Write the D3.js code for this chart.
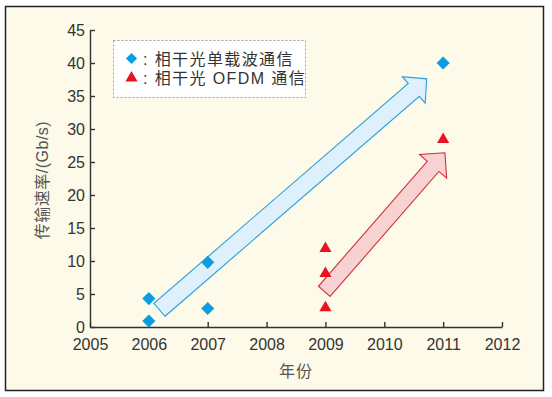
<!DOCTYPE html>
<html>
<head>
<meta charset="utf-8">
<script src="https://cdn.jsdelivr.net/npm/d3@7"></script>
<style>
	html, body { margin: 0; padding: 0; background: #fff; }
	svg { display: block; font-family: "Liberation Sans", Arial, "Noto Sans CJK SC", sans-serif; }
</style>
</head>
<body>
<svg width="552" height="397"></svg>
<script>
'use strict';

// single carrier coherent optical
const singleYears = [2006, 2006, 2007, 2007, 2011];
const singleRates = [4.3, 0.9, 9.8, 2.8, 40];
// coherent optical OFDM
const ofdmYears = [2009, 2009, 2009, 2011];
const ofdmRates = [11.9, 8.1, 2.9, 28.4];

const xTicks = [2005, 2006, 2007, 2008, 2009, 2010, 2011, 2012];
const yTicks = [0, 5, 10, 15, 20, 25, 30, 35, 40, 45];

// trend arrows: [start year, start rate, end year, end rate]
const singleTrend = [2006.18, 2.6, 2010.72, 37.6];
const ofdmTrend = [2008.98, 5.4, 2011.03, 26.4];

const legendLabels = ["相干光单载波通信", "相干光 OFDM 通信"];

const svg = d3.select("svg");

svg.append("rect")
	.attr("x", 5.5).attr("y", 6.5)
	.attr("width", 538).attr("height", 384)
	.attr("fill", "#fdfae9")
	.attr("stroke", "#222")
	.attr("stroke-width", 1.5);

const x = d3.scaleLinear().domain([2005, 2012]).range([90, 502]);
const y = d3.scaleLinear().domain([0, 45]).range([327, 30]);

const axisColor = "#333";

const xAxis = svg.append("g")
	.attr("transform", "translate(0,327)")
	.call(d3.axisBottom(x).tickValues(xTicks).tickFormat(d3.format("d")).tickSizeInner(-5).tickSizeOuter(0).tickPadding(12));
const yAxis = svg.append("g")
	.attr("transform", "translate(90,0)")
	.call(d3.axisLeft(y).tickValues(yTicks).tickSizeInner(-5).tickSizeOuter(0).tickPadding(5));

[xAxis, yAxis].forEach(a => {
	a.select(".domain").attr("stroke", axisColor).attr("stroke-width", 1.4);
	a.selectAll(".tick line").attr("stroke", axisColor).attr("stroke-width", 1.4);
	a.selectAll(".tick text")
		.attr("fill", "#333")
		.style("font-size", "16px")
		.style("font-family", "'Liberation Sans', Arial, sans-serif");
});
yAxis.selectAll(".tick text").attr("dy", "0.34em");

// axis titles
svg.append("text")
	.attr("x", 296).attr("y", 377)
	.attr("text-anchor", "middle")
	.attr("fill", "#555")
	.style("font-size", "16px")
	.style("letter-spacing", "1px")
	.style("font-family", "'Noto Sans CJK SC', sans-serif")
	.text("年份");

svg.append("text")
	.attr("transform", "translate(48,180) rotate(-90)")
	.attr("text-anchor", "middle")
	.attr("fill", "#555")
	.style("font-size", "16px")
	.style("letter-spacing", "0.5px")
	.style("font-family", "'Liberation Sans', 'Noto Sans CJK SC', sans-serif")
	.text("传输速率/(Gb/s)");

// block arrow from pixel coords
function arrowPath(t, shaftW, headW, headL) {
	const x0 = x(t[0]), y0 = y(t[1]), x1 = x(t[2]), y1 = y(t[3]);
	const dx = x1 - x0, dy = y1 - y0;
	const len = Math.hypot(dx, dy);
	const ux = dx / len, uy = dy / len;
	const nx = -uy, ny = ux;
	const bx = x1 - ux * headL, by = y1 - uy * headL;
	const pts = [
		[x0 + nx * shaftW / 2, y0 + ny * shaftW / 2],
		[bx + nx * shaftW / 2, by + ny * shaftW / 2],
		[bx + nx * headW / 2, by + ny * headW / 2],
		[x1, y1],
		[bx - nx * headW / 2, by - ny * headW / 2],
		[bx - nx * shaftW / 2, by - ny * shaftW / 2],
		[x0 - nx * shaftW / 2, y0 - ny * shaftW / 2]
	];
	return "M" + pts.map(p => p.join(",")).join("L") + "Z";
}

svg.append("path")
	.attr("d", arrowPath(singleTrend, 17, 35, 17))
	.attr("fill", "#def0fb")
	.attr("stroke", "#2a9fd6")
	.attr("stroke-width", 1.1);

svg.append("path")
	.attr("d", arrowPath(ofdmTrend, 15.5, 36, 18))
	.attr("fill", "#f8d2d3")
	.attr("stroke", "#d0303a")
	.attr("stroke-width", 1.1);

const blue = "#0b9de2";
const red = "#e5141f";
const diamond = d3.symbol().type(d3.symbolSquare).size(86);
const triangle = d3.symbol().type(d3.symbolTriangle).size(64);

svg.append("g")
	.selectAll("path")
	.data(singleYears)
	.enter().append("path")
	.attr("d", diamond)
	.attr("fill", blue)
	.attr("transform", (d, i) => `translate(${x(d)},${y(singleRates[i])}) rotate(45)`);

svg.append("g")
	.selectAll("path")
	.data(ofdmYears)
	.enter().append("path")
	.attr("d", triangle)
	.attr("fill", red)
	.attr("transform", (d, i) => `translate(${x(d)},${y(ofdmRates[i])})`);

// legend
const legend = svg.append("g");
legend.append("rect")
	.attr("x", 113.5).attr("y", 40.5)
	.attr("width", 192).attr("height", 57)
	.attr("fill", "#fff")
	.attr("stroke", "#888")
	.attr("stroke-width", 0.8)
	.attr("stroke-dasharray", "2,2");

legend.append("path")
	.attr("d", d3.symbol().type(d3.symbolSquare).size(62))
	.attr("fill", blue)
	.attr("transform", "translate(131.5,58.5) rotate(45)");
legend.append("path")
	.attr("d", d3.symbol().type(d3.symbolTriangle).size(64))
	.attr("fill", red)
	.attr("transform", "translate(131.5,78)");

legend.selectAll("text")
	.data(legendLabels)
	.enter().append("text")
	.attr("x", 143)
	.attr("y", (d, i) => 64.5 + i * 19.5)
	.attr("fill", "#333")
	.style("font-size", "16px")
	.style("letter-spacing", "1.4px")
	.style("font-family", "'Liberation Sans', 'Noto Sans CJK SC', sans-serif")
	.text(d => ": " + d);
</script>
</body>
</html>
